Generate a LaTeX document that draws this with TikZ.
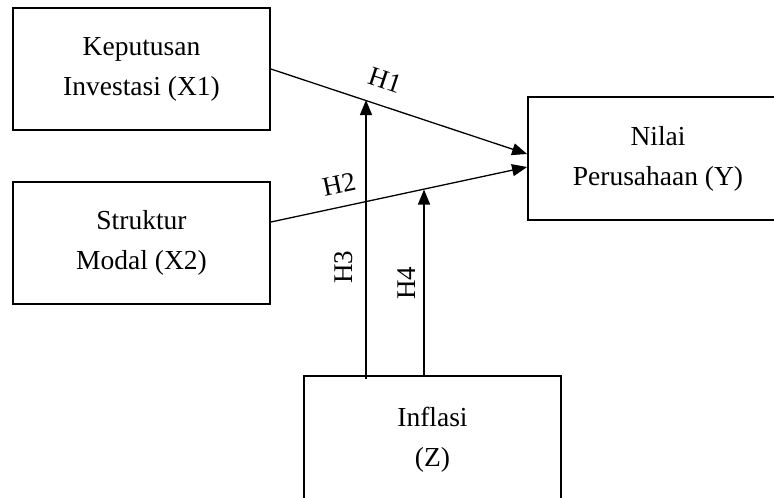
\documentclass[tikz,border=0pt]{standalone}
\usepackage{fontspec}
\setmainfont{Liberation Serif}
\usetikzlibrary{arrows.meta,calc}
\begin{document}
\begin{tikzpicture}[x=1pt,y=-1pt,
  varbox/.style={draw,line width=1.8pt,minimum width=257pt,align=center,inner sep=0pt,
    font=\fontsize{27.5}{40}\selectfont},
  conn/.style={line width=1.3pt,-{Triangle[length=15pt,width=12pt]}},
  hlabel/.style={font=\fontsize{27}{27}\selectfont,inner sep=0pt}]
\useasboundingbox (0,0) rectangle (774,498);
\clip (0,0) rectangle (774,498);
\fill[white] (0,0) rectangle (774,498);
% boxes
\node[varbox,minimum height=122pt] (x1) at (141.5,69) {Keputusan\\Investasi (X1)};
\node[varbox,minimum height=122pt] (x2) at (141.5,243) {Struktur\\Modal (X2)};
\node[varbox,minimum width=260pt,minimum height=123pt] (y) at (658,158.5) {Nilai\\Perusahaan (Y)};
\node[varbox,minimum height=128pt] (z) at (432.5,440) {Inflasi\\(Z)};
% connector end points
\coordinate (x2e) at (x2.east |- 0,222);
\coordinate (yin1) at (y.west |- 0,154);
\coordinate (yin2) at (y.west |- 0,167);
\coordinate (h3b) at (366,379);
\coordinate (h3t) at (366,100);
\coordinate (h4b) at (z.north -| 424,0);
\coordinate (h4t) at (424,189.5);
% connectors
\draw[conn] (x1.east) -- (yin1);
\draw[conn] (x2e) -- (yin2);
\draw[conn] (h3b) -- (h3t);
\draw[conn] (h4b) -- (h4t);
% labels
\node[hlabel,rotate=-18.5] (lh1) at (385,80) {H1};
\node[hlabel,rotate=12] (lh2) at (339,184) {H2};
\node[hlabel,rotate=90] (lh3) at (344,267) {H3};
\node[hlabel,rotate=90] (lh4) at (407,283) {H4};
\end{tikzpicture}
\end{document}
